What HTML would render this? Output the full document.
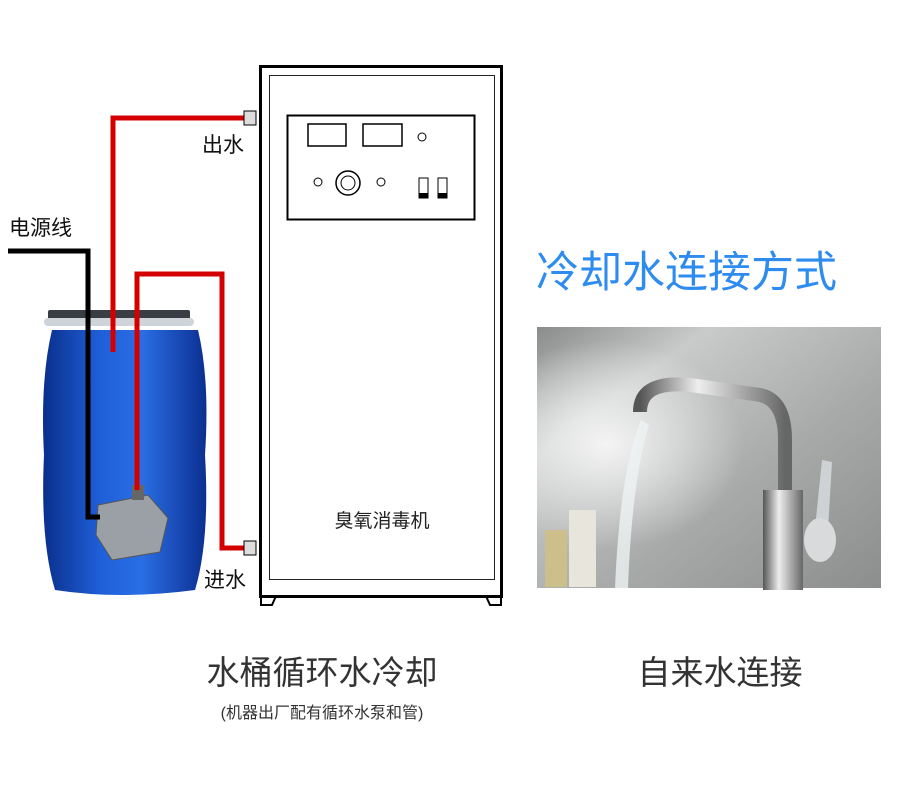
<!DOCTYPE html>
<html><head><meta charset="utf-8"><style>
body{margin:0;background:#fff;width:900px;height:798px;overflow:hidden;font-family:"Liberation Sans","Noto Sans CJK SC",sans-serif}
svg{display:block}
</style></head><body>
<svg width="900" height="798" viewBox="0 0 900 798" xmlns="http://www.w3.org/2000/svg">
<defs>
<linearGradient id="bar" x1="0" x2="1">
<stop offset="0" stop-color="#0a2f8c"/><stop offset="0.35" stop-color="#1f5fd8"/><stop offset="0.6" stop-color="#2a6ee6"/><stop offset="1" stop-color="#0b2f90"/>
</linearGradient>
<linearGradient id="wall" x1="0" y1="0" x2="1" y2="1">
<stop offset="0" stop-color="#8a8c8c"/><stop offset="0.25" stop-color="#c9cbcb"/><stop offset="0.6" stop-color="#a8aaa9"/><stop offset="1" stop-color="#8c8e8d"/>
</linearGradient>
<radialGradient id="glow" cx="0.2" cy="0.45" r="0.4"><stop offset="0" stop-color="#f4f4f4"/><stop offset="1" stop-color="#f4f4f4" stop-opacity="0"/></radialGradient>
<linearGradient id="chrome" x1="0" x2="1"><stop offset="0" stop-color="#555"/><stop offset="0.4" stop-color="#eee"/><stop offset="1" stop-color="#666"/></linearGradient>
</defs>
<path d="M52 330 Q40 380 44 455 Q40 540 55 590 Q120 600 195 590 Q210 540 205 455 Q210 380 198 330 Z" fill="url(#bar)"/>
<rect x="48" y="310" width="142" height="10" rx="2" fill="#3a3d44"/>
<rect x="44" y="318" width="150" height="8" rx="4" fill="#cfd3da"/>
<polygon points="98,505 148,495 168,518 160,552 112,560 96,535" fill="#9aa0a6" stroke="#555" stroke-width="1"/>
<rect x="132" y="485" width="12" height="15" fill="#666"/>
<polyline points="8,251 88,251 88,517 100,517" fill="none" stroke="#000" stroke-width="5"/>
<polyline points="250,118 113,118 113,352" fill="none" stroke="#d40000" stroke-width="5"/>
<polyline points="250,548 222,548 222,274 137,274 137,490" fill="none" stroke="#d40000" stroke-width="5"/>
<rect x="244" y="111" width="12" height="14" fill="#ddd" stroke="#000"/>
<rect x="244" y="541" width="12" height="14" fill="#ddd" stroke="#000"/>
<rect x="260.5" y="66.5" width="241" height="530" fill="#fff" stroke="#000" stroke-width="3"/>
<rect x="269.5" y="75.5" width="225" height="504" fill="none" stroke="#222" stroke-width="1"/>
<path d="M261 596 L261 605 L272 605 L276 596 M501 596 L501 605 L490 605 L486 596" fill="none" stroke="#000" stroke-width="2"/>
<rect x="287.5" y="115.5" width="187" height="104" fill="none" stroke="#000" stroke-width="2"/>
<rect x="308" y="124" width="38" height="22" fill="none" stroke="#000" stroke-width="1.5"/>
<rect x="363" y="124" width="39" height="22" fill="none" stroke="#000" stroke-width="1.5"/>
<circle cx="422" cy="137" r="4" fill="none" stroke="#000"/>
<circle cx="318" cy="182" r="4" fill="none" stroke="#000"/>
<circle cx="348" cy="183" r="12" fill="none" stroke="#000" stroke-width="1.5"/>
<circle cx="348" cy="183" r="7" fill="none" stroke="#000"/>
<circle cx="381" cy="182" r="4" fill="none" stroke="#000"/>
<rect x="419" y="178" width="9" height="20" fill="none" stroke="#000"/><rect x="419" y="193" width="9" height="5" fill="#000"/>
<rect x="438" y="178" width="9" height="20" fill="none" stroke="#000"/><rect x="438" y="193" width="9" height="5" fill="#000"/>
<text x="382" y="527" font-size="19" text-anchor="middle" fill="#222">臭氧消毒机</text>
<text x="202" y="152" font-size="21" fill="#111">出水</text>
<text x="9" y="235" font-size="21" fill="#111">电源线</text>
<text x="204" y="587" font-size="21" fill="#111">进水</text>
<rect x="537" y="327" width="344" height="261" fill="url(#wall)"/>
<rect x="537" y="327" width="344" height="261" fill="url(#glow)"/>
<path d="M640 412 Q640 380 690 385 L760 395 Q785 400 785 440 L785 510" fill="none" stroke="url(#chrome)" stroke-width="14"/>
<rect x="763" y="490" width="40" height="100" fill="url(#chrome)"/>
<path d="M822 460 L832 462 L828 530 L815 528 Z" fill="#cfd2d4"/>
<ellipse cx="820" cy="540" rx="16" ry="22" fill="#d8dadb"/>
<path d="M641 420 Q620 470 615 588 L628 588 Q632 480 649 425 Z" fill="#eef2f4" opacity="0.8"/>
<rect x="545" y="530" width="22" height="57" fill="#cdbf8a"/>
<rect x="569" y="510" width="27" height="77" fill="#e8e6dc"/>
<text x="536" y="287" font-size="43" fill="#2e8cf0">冷却水连接方式</text>
<text x="322" y="684" font-size="33" text-anchor="middle" fill="#333">水桶循环水冷却</text>
<text x="322" y="718" font-size="16" text-anchor="middle" fill="#333">(机器出厂配有循环水泵和管)</text>
<text x="720" y="684" font-size="33" text-anchor="middle" fill="#333">自来水连接</text>
</svg>
</body></html>
